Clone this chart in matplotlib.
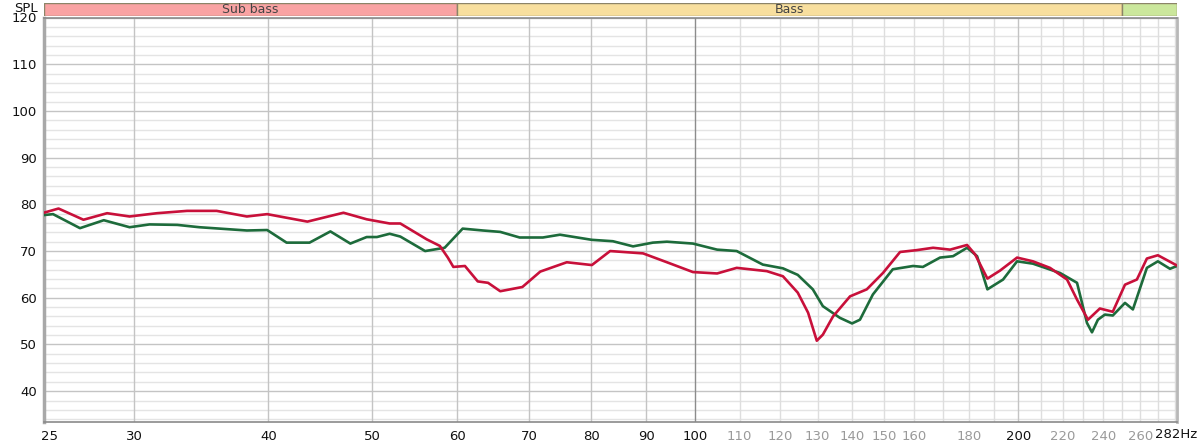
import matplotlib
matplotlib.use("Agg")
import matplotlib.pyplot as plt
from matplotlib.patches import Rectangle
import numpy as np

# ---- data ----
red_freq = [24.7, 25.5, 26.9, 28.3, 29.7, 31.5, 33.6, 35.8, 38.2, 39.9, 43.5, 47.0, 49.4, 51.9,
            53.1, 56.2, 57.8, 58.8, 59.5, 61.0, 62.7, 64.1, 65.8, 69.0, 71.7, 75.9, 80.1, 83.3,
            89.4, 94.1, 99.5, 104.8, 109.3, 116.6, 120.7, 124.6, 127.4, 129.8, 131.5, 134.4,
            139.4, 144.5, 149.6, 155.2, 160.9, 166.6, 172.8, 179.2, 182.3, 187.2, 192.3, 199.5,
            206.4, 214.1, 222.1, 226.9, 232.3, 238.3, 245.0, 251.5, 258.0, 263.6, 269.9, 281.2]
red_spl = [78.2, 79.1, 76.7, 78.1, 77.4, 78.1, 78.6, 78.6, 77.4, 77.9, 76.3, 78.2, 76.8, 75.9,
           75.9, 72.5, 71.1, 68.6, 66.6, 66.8, 63.5, 63.2, 61.4, 62.3, 65.6, 67.6, 67.0, 70.0,
           69.5, 67.6, 65.5, 65.2, 66.4, 65.7, 64.6, 61.1, 56.8, 50.8, 52.1, 56.0,
           60.3, 61.8, 65.3, 69.8, 70.2, 70.7, 70.3, 71.3, 69.3, 64.1, 65.8, 68.6,
           67.8, 66.4, 63.9, 59.6, 55.3, 57.7, 57.0, 62.8, 63.9, 68.4, 69.1, 66.9]

green_freq = [24.7, 25.2, 26.7, 28.1, 29.7, 31.0, 32.9, 34.5, 38.2, 39.9, 41.6, 43.7, 45.7, 47.7,
              49.4, 50.5, 51.9, 53.1, 56.0, 58.4, 60.7, 63.4, 65.8, 68.6, 72.1, 74.8, 80.1, 83.8,
              87.5, 91.3, 94.1, 99.5, 104.8, 109.3, 115.6, 120.7, 124.6, 128.7, 131.5, 136.4,
              140.0, 142.4, 146.4, 152.8, 159.6, 163.0, 169.1, 173.9, 179.2, 183.1, 187.2, 193.6,
              199.5, 206.4, 218.8, 226.9, 231.8, 234.3, 237.3, 240.9, 245.0, 251.5, 255.8, 263.6,
              269.9, 277.0, 281.2]
green_spl = [77.7, 77.9, 74.9, 76.6, 75.1, 75.7, 75.6, 75.1, 74.4, 74.5, 71.8, 71.8, 74.2, 71.6,
             73.0, 73.0, 73.7, 73.1, 70.0, 70.7, 74.8, 74.4, 74.1, 72.9, 72.9, 73.5, 72.4, 72.1,
             71.0, 71.8, 72.0, 71.6, 70.3, 70.0, 67.1, 66.3, 64.9, 61.8, 58.2, 55.7,
             54.5, 55.3, 60.7, 66.1, 66.8, 66.6, 68.6, 68.9, 70.7, 68.9, 61.8, 63.9,
             67.8, 67.3, 65.3, 63.2, 54.6, 52.6, 55.3, 56.4, 56.2, 58.9, 57.5, 66.4,
             67.8, 66.2, 66.8]

x_ticks = [25, 30, 40, 50, 60, 70, 80, 90, 100, 110, 120, 130, 140, 150, 160, 180, 200, 220, 240, 260]
x_labels = ["25", "30", "40", "50", "60", "70", "80", "90", "100", "110", "120", "130", "140",
            "150", "160", "180", "200", "220", "240", "260"]
grey_labels = ["110", "120", "130", "140", "150", "160", "180", "220", "240", "260"]
y_ticks = [40, 50, 60, 70, 80, 90, 100, 110, 120]

bands = [("Sub bass", 24.7, 60, "#f9a3a3"), ("Bass", 60, 250, "#f8df9e"), ("", 250, 281.2, "#cbe79c")]

XMIN, XMAX = 24.7, 281.2
YMIN, YMAX = 33.4, 120

# ---- figure ----
W, H = 1200, 447
fig = plt.figure(figsize=(W / 100, H / 100), dpi=100)
L, R, B, T = 43.7, 1177, 422, 17.5
ax = fig.add_axes([L / W, (H - B) / H, (R - L) / W, (B - T) / H])
ax.set_xscale("log")
ax.set_xlim(XMIN, XMAX)
ax.set_ylim(YMIN, YMAX)

# grid
for v in np.arange(34, 121, 2):
    if v % 10 == 0:
        ax.axhline(v, color="#c4c4c4", lw=1.0, zorder=1)
    else:
        ax.axhline(v, color="#e4e4e4", lw=1.0, zorder=0.5)
for f in [30, 40, 50, 60, 70, 80, 90, 200]:
    ax.axvline(f, color="#c4c4c4", lw=1.0, zorder=1)
for f in list(range(110, 200, 10)) + list(range(210, 290, 10)):
    if f < XMAX:
        ax.axvline(f, color="#dedede", lw=1.0, zorder=0.8)
ax.axvline(100, color="#8c8c8c", lw=1.0, zorder=1.2)

ax.plot(green_freq, green_spl, color="#1d6b3b", lw=1.9, zorder=3, solid_joinstyle="round")
ax.plot(red_freq, red_spl, color="#c8103a", lw=1.9, zorder=4, solid_joinstyle="round")

# ticks
ax.set_xticks(x_ticks)
ax.set_xticklabels(x_labels)
ax.xaxis.set_minor_locator(matplotlib.ticker.NullLocator())
ax.set_yticks(y_ticks)
ax.tick_params(axis="both", length=0, labelsize=9.5, pad=6)
ax.tick_params(axis="y", pad=5)
for lab in ax.get_xticklabels():
    if lab.get_text() in grey_labels:
        lab.set_color("#9a9a9a")
    else:
        lab.set_color("#111111")
for lab in ax.get_yticklabels():
    lab.set_color("#111111")

fig.text(1197 / W, (H - 434) / H, "282Hz", ha="right", va="center", fontsize=9.5, color="#111111")
fig.text(38 / W, (H - 8) / H, "SPL", ha="right", va="center", fontsize=9.5, color="#111111")

for side in ["top", "right", "bottom", "left"]:
    ax.spines[side].set_color("#8a8a8a")
    ax.spines[side].set_linewidth(1.2)
ax.spines["left"].set_linewidth(2.5)
ax.spines["left"].set_color("#a8a8a8")
ax.spines["right"].set_color("#b8b8b8")
ax.spines["right"].set_linewidth(2.0)

# band axes
bax = fig.add_axes([L / W, (H - 15.5) / H, (R - L) / W, 12.8 / H])
bax.set_xscale("log")
bax.set_xlim(XMIN, XMAX)
bax.set_ylim(0, 1)
bax.axis("off")
for name, f0, f1, col in bands:
    bax.add_patch(Rectangle((f0, 0), f1 - f0, 1, facecolor=col, edgecolor="#8c8468", lw=1.0))
    if name:
        bax.text(np.sqrt(f0 * f1), 0.5, name, ha="center", va="center", fontsize=9, color="#444444")

fig.savefig("out.png", dpi=100)
